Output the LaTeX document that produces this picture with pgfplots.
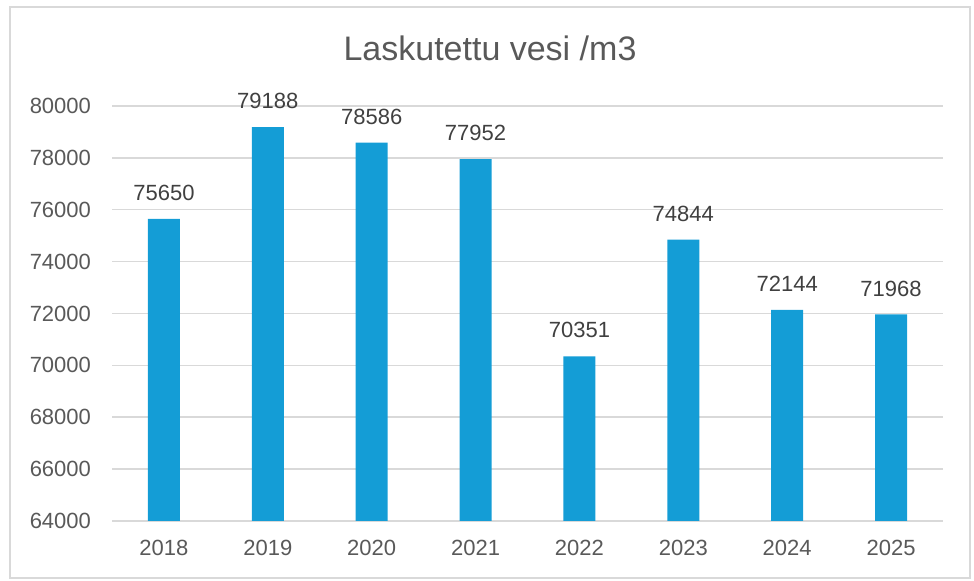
\documentclass[border=0pt]{standalone}
\usepackage{fontspec}
\setmainfont{Liberation Sans}
\usepackage{pgfplots}
\pgfplotsset{compat=1.18}
\definecolor{barblue}{HTML}{149DD6}
\definecolor{gridgray}{HTML}{D9D9D9}
\definecolor{ticktext}{HTML}{595959}
\definecolor{labeltext}{HTML}{404040}
\begin{document}
\begin{tikzpicture}
\useasboundingbox (0,0) rectangle (487pt,290.5pt);
\draw[gridgray, line width=0.75pt] (5pt,1.5pt) rectangle (485pt,287pt);
\node[text=ticktext, font=\fontsize{17}{20}\selectfont] at (245pt,266.5pt) {Laskutettu vesi /m3};
\begin{axis}[
  at={(56pt,30pt)}, anchor=south west,
  scale only axis,
  width=415.5pt, height=207.5pt,
  xmin=-0.5, xmax=7.5,
  ymin=64000, ymax=80000,
  ytick={64000,66000,...,80000},
  scaled y ticks=false,
  yticklabel style={/pgf/number format/fixed, /pgf/number format/precision=0},
  xtick=data,
  xticklabels={2018,2019,2020,2021,2022,2023,2024,2025},
  ymajorgrids,
  grid style={gridgray, line width=0.75pt},
  axis x line*=bottom,
  axis y line*=left,
  x axis line style={gridgray, line width=0.75pt, -},
  y axis line style={draw=none},
  major tick length=0pt,
  /pgf/number format/assume math mode=true,
  /pgf/number format/1000 sep={},
  tick label style={text=ticktext, font=\fontsize{11}{13}\selectfont},
  yticklabel style={xshift=-7pt},
  xticklabel style={yshift=-6pt},
  clip=false,
  ybar, bar width=16pt,
  nodes near coords,
  nodes near coords style={text=labeltext, font=\fontsize{11}{13}\selectfont,
    /pgf/number format/fixed, /pgf/number format/precision=0, anchor=south, yshift=5.5pt},
]
\addplot[fill=barblue, draw=none] coordinates {
  (0,75650) (1,79188) (2,78586) (3,77952) (4,70351) (5,74844) (6,72144) (7,71968)
};
\end{axis}
\end{tikzpicture}
\end{document}
